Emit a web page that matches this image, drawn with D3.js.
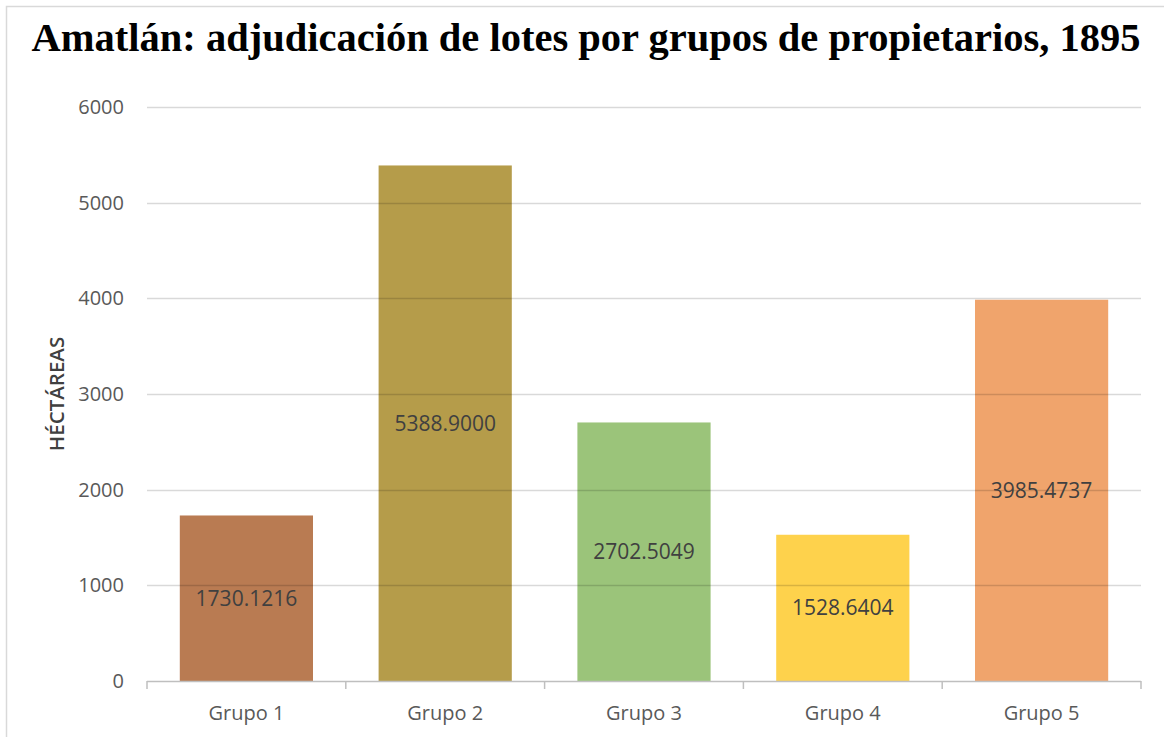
<!DOCTYPE html>
<html>
<head>
<meta charset="utf-8">
<script src="https://cdn.jsdelivr.net/npm/d3@7"></script>
<style>
  body { margin: 0; background: #fff; }
  svg { display: block; }
</style>
</head>
<body>
<figure id="chart" style="margin:0"></figure>
<script>
// chart values
const groups = ["Grupo 1", "Grupo 2", "Grupo 3", "Grupo 4", "Grupo 5"];
const hectares = [1730.1216, 5388.9, 2702.5049, 1528.6404, 3985.4737];
const barColors = ["#b97b52", "#b59c4a", "#9bc47a", "#fed24c", "#f0a46c"];
const yTicks = [0, 1000, 2000, 3000, 4000, 5000, 6000];

const titleText = "Amatlán: adjudicación de lotes por grupos de propietarios, 1895";
const yTitle = "HÉCTÁREAS";

let dimensions = {
    width: 1164,
    height: 737,
    margin: { top: 107, right: 23, bottom: 56, left: 147 }
};
dimensions.boundedWidth = dimensions.width - dimensions.margin.left - dimensions.margin.right;
dimensions.boundedHeight = dimensions.height - dimensions.margin.top - dimensions.margin.bottom;

const svg = d3.select("figure#chart")
    .append("svg")
    .attr("width", dimensions.width)
    .attr("height", dimensions.height);

// light frame round the chart
svg.append("rect")
    .attr("x", 6.5).attr("y", 6.5)
    .attr("width", dimensions.width + 20).attr("height", dimensions.height + 20)
    .attr("fill", "none")
    .attr("stroke", "#d9d9d9")
    .attr("stroke-width", 1.5);

svg.append("text")
    .attr("x", 586)
    .attr("y", 51)
    .attr("text-anchor", "middle")
    .style("font-family", "'Liberation Serif', 'Times New Roman', serif")
    .style("font-weight", "bold")
    .style("font-size", "40.5px")
    .attr("fill", "#000")
    .text(titleText);

const g = svg.append("g")
    .attr("transform", `translate(${dimensions.margin.left},${dimensions.margin.top})`);

const xScale = d3.scaleBand()
    .domain(groups)
    .range([0, dimensions.boundedWidth])
    .paddingInner(0.33)
    .paddingOuter(0.165);

const yScale = d3.scaleLinear()
    .domain([0, 6000])
    .range([dimensions.boundedHeight, 0]);

const data = groups.map((d, i) => ({ group: d, value: hectares[i], color: barColors[i] }));

// bars
g.selectAll("rect.bar")
    .data(data)
    .enter()
    .append("rect")
    .attr("class", "bar")
    .attr("x", d => xScale(d.group))
    .attr("y", d => yScale(d.value))
    .attr("width", xScale.bandwidth())
    .attr("height", d => yScale(0) - yScale(d.value))
    .attr("fill", d => d.color);

// gridlines sit over the bars
g.append("g")
    .selectAll("line")
    .data(yTicks.filter(t => t > 0))
    .enter()
    .append("line")
    .attr("x1", 0)
    .attr("x2", dimensions.boundedWidth)
    .attr("y1", d => Math.round(yScale(d)) + 0.5)
    .attr("y2", d => Math.round(yScale(d)) + 0.5)
    .attr("stroke", "rgba(0,0,0,0.15)")
    .attr("stroke-width", 1.5);

// y tick labels
const yAxis = g.append("g")
    .call(d3.axisLeft(yScale).tickValues(yTicks).tickSize(0).tickPadding(23).tickFormat(d3.format("d")));
yAxis.select(".domain").remove();
yAxis.selectAll("text")
    .style("font-family", "'Open Sans', 'Noto Sans', sans-serif")
    .style("font-size", "20px")
    .attr("fill", "#595959");

// x axis with boundary ticks
const xAxis = g.append("g")
    .attr("transform", `translate(0,${dimensions.boundedHeight})`);
xAxis.append("line")
    .attr("x1", 0).attr("x2", dimensions.boundedWidth)
    .attr("y1", 0.5).attr("y2", 0.5)
    .attr("stroke", "#bfbfbf").attr("stroke-width", 1.5);
const step = xScale.step();
xAxis.selectAll("line.tick")
    .data(d3.range(groups.length + 1))
    .enter()
    .append("line")
    .attr("class", "tick")
    .attr("x1", i => i * step).attr("x2", i => i * step)
    .attr("y1", 0).attr("y2", 8)
    .attr("stroke", "#bfbfbf").attr("stroke-width", 1.5);
xAxis.selectAll("text")
    .data(groups)
    .enter()
    .append("text")
    .attr("x", d => xScale(d) + xScale.bandwidth() / 2)
    .attr("y", 39)
    .attr("text-anchor", "middle")
    .style("font-family", "'Open Sans', 'Noto Sans', sans-serif")
    .style("font-size", "20px")
    .attr("fill", "#595959")
    .text(d => d);

// value labels in the middle of each bar
g.selectAll("text.value")
    .data(data)
    .enter()
    .append("text")
    .attr("class", "value")
    .attr("x", d => xScale(d.group) + xScale.bandwidth() / 2)
    .attr("y", d => (yScale(d.value) + yScale(0)) / 2)
    .attr("dy", "0.35em")
    .attr("text-anchor", "middle")
    .style("font-family", "'Open Sans', 'Noto Sans', sans-serif")
    .style("font-size", "21px")
    .attr("fill", "#404040")
    .text(d => d.value.toFixed(4));

// y axis title
svg.append("text")
    .attr("transform", `translate(64,${dimensions.margin.top + yScale(3000)}) rotate(-90)`)
    .attr("text-anchor", "middle")
    .style("font-family", "'Open Sans', 'Noto Sans', sans-serif")
    .style("font-size", "20.5px")
    .style("font-weight", "600")
    .attr("fill", "#404040")
    .text(yTitle);
</script>
</body>
</html>
